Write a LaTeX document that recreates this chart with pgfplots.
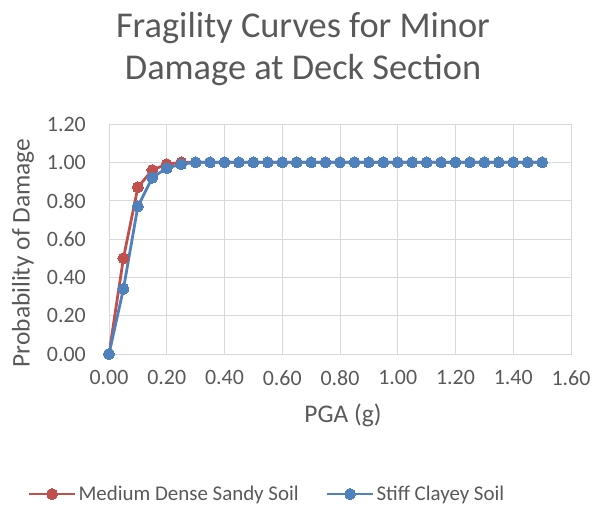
\documentclass[border=0pt]{standalone}
\usepackage{fontspec}
\setmainfont{Carlito}
\usepackage{pgfplots}
\pgfplotsset{compat=1.18}

\definecolor{txtgray}{HTML}{595959}
\definecolor{gridgray}{HTML}{D9D9D9}
\definecolor{sandred}{HTML}{C0504D}
\definecolor{clayblue}{HTML}{4F81BD}

\begin{document}
\begin{tikzpicture}
\begin{axis}[
  scale only axis,
  width=462bp, height=230bp,
  at={(0,0)}, anchor=south west,
  xmin=0, xmax=1.6, ymin=0, ymax=1.2,
  xtick={0,0.2,...,1.6}, ytick={0,0.2,...,1.2},
  major tick length=0pt,
  grid=major,
  major grid style={gridgray, line width=0.9bp},
  axis line style={gridgray, line width=0.9bp},
  /pgf/number format/assume math mode=true,
  /pgf/number format/.cd, fixed, fixed zerofill, precision=2, /pgfplots/.cd,
  ticklabel style={font=\fontsize{22}{26}\selectfont, text=txtgray, inner sep=0pt},
  xticklabel style={anchor=north, yshift=-16bp},
  yticklabel style={anchor=east, xshift=-23bp},
  xlabel={PGA (g)},
  ylabel={Probability of Damage},
  xlabel style={font=\fontsize{25.5}{30}\selectfont, text=txtgray, inner sep=0pt,
    at={(axis description cs:0.5,0)}, anchor=base, yshift=-68bp, xshift=3bp},
  % the label is already turned by 90 degrees: xshift runs up, yshift runs left
  ylabel style={font=\fontsize{25.5}{30}\selectfont, text=txtgray, inner sep=0pt,
    at={(axis description cs:0,0.5)}, anchor=center, yshift=86bp, xshift=-14bp},
  legend columns=2,
  legend style={draw=none, fill=none, font=\fontsize{21}{25}\selectfont, text=txtgray,
    at={(158bp,-140bp)}, anchor=center,
    /tikz/every even column/.append style={column sep=25bp}},
  legend cell align=left,
  legend image code/.code={%
    \draw[#1, mark repeat=2, mark phase=2] plot coordinates {(0bp,0bp) (23bp,0bp) (46bp,0bp)};},
  every axis plot/.append style={line width=2.8bp, mark=*, mark size=5.5bp},
]
\addplot[color=sandred, mark options={fill=sandred, draw=sandred, line width=0pt}] coordinates {
  (0,0) (0.05,0.50) (0.10,0.87) (0.15,0.96) (0.20,0.99) (0.25,1.00) (0.30,1.00)
  (0.35,1.00) (0.40,1.00) (0.45,1.00) (0.50,1.00) (0.55,1.00) (0.60,1.00)
  (0.65,1.00) (0.70,1.00) (0.75,1.00) (0.80,1.00) (0.85,1.00) (0.90,1.00)
  (0.95,1.00) (1.00,1.00) (1.05,1.00) (1.10,1.00) (1.15,1.00) (1.20,1.00)
  (1.25,1.00) (1.30,1.00) (1.35,1.00) (1.40,1.00) (1.45,1.00) (1.50,1.00)
};
\addlegendentry{Medium Dense Sandy Soil}
\addplot[color=clayblue, mark options={fill=clayblue, draw=clayblue, line width=0pt}] coordinates {
  (0,0) (0.05,0.34) (0.10,0.77) (0.15,0.92) (0.20,0.97) (0.25,0.99) (0.30,1.00)
  (0.35,1.00) (0.40,1.00) (0.45,1.00) (0.50,1.00) (0.55,1.00) (0.60,1.00)
  (0.65,1.00) (0.70,1.00) (0.75,1.00) (0.80,1.00) (0.85,1.00) (0.90,1.00)
  (0.95,1.00) (1.00,1.00) (1.05,1.00) (1.10,1.00) (1.15,1.00) (1.20,1.00)
  (1.25,1.00) (1.30,1.00) (1.35,1.00) (1.40,1.00) (1.45,1.00) (1.50,1.00)
};
\addlegendentry{Stiff Clayey Soil}
\end{axis}
% chart title
\node[anchor=base, text=txtgray, font=\fontsize{36.5}{42}\selectfont, inner sep=0pt]
  at (194bp,316bp) {Fragility Curves for Minor};
\node[anchor=base, text=txtgray, font=\fontsize{36.5}{42}\selectfont, inner sep=0pt]
  at (194bp,274bp) {Damage at Deck Section};
\pgfresetboundingbox
\path (-109bp,-155bp) rectangle (497bp,354bp);
\end{tikzpicture}
\end{document}
